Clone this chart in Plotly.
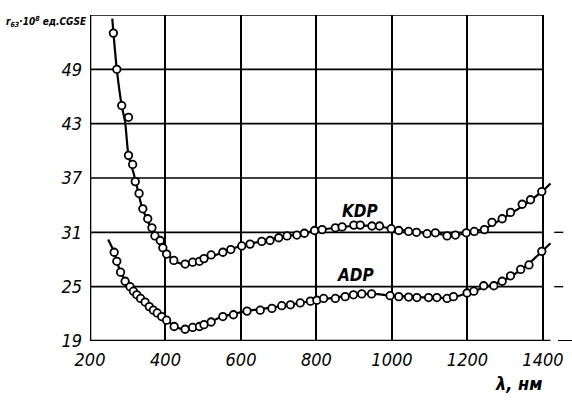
import plotly.graph_objects as go

# ---- data ----
kdp_lambda = [262, 271, 284, 302, 313, 320, 330, 340, 353, 364, 372, 386, 393, 403, 422,
              452, 472, 490, 502, 521, 552, 573, 602, 624, 655, 677, 700, 722, 748, 768,
              795, 815, 850, 868, 899, 916, 947, 967, 998, 1018, 1044, 1065, 1093, 1115,
              1146, 1168, 1197, 1218, 1245, 1265, 1292, 1314, 1345, 1367, 1397]
kdp_value = [53.0, 49.0, 45.0, 39.5, 38.5, 36.6, 35.3, 33.6, 32.5, 31.5, 30.6, 30.1, 29.3, 28.6, 27.9,
             27.5, 27.7, 27.8, 28.1, 28.5, 28.8, 29.1, 29.5, 29.7, 30.0, 30.1, 30.4, 30.6, 30.7, 30.9,
             31.2, 31.3, 31.5, 31.6, 31.8, 31.8, 31.7, 31.7, 31.4, 31.2, 31.1, 31.0, 30.85, 30.95,
             30.6, 30.7, 30.95, 31.1, 31.3, 32.1, 32.5, 33.2, 34.1, 34.6, 35.5]
kdp_extra_lambda = [302]
kdp_extra_value = [43.7]

kdp_curve_lambda = [259, 271, 284, 293, 302, 315, 324, 337, 359, 381, 403, 430, 455, 500, 600,
                    700, 800, 900, 960, 1000, 1100, 1160, 1200, 1250, 1300, 1350, 1400, 1420]
kdp_curve_value = [54.6, 49.0, 45.0, 43.2, 39.5, 37.6, 36.1, 33.9, 31.7, 29.9, 28.6, 27.7, 27.5, 28.0, 29.5,
                   30.4, 31.2, 31.7, 31.7, 31.4, 30.9, 30.7, 30.9, 31.5, 32.7, 34.0, 35.6, 36.4]

adp_lambda = [264, 271, 281, 293, 306, 315, 324, 334, 346, 357, 368, 378, 390, 403, 423,
              452, 472, 490, 502, 521, 552, 580, 616, 651, 682, 708, 731, 757, 784, 801,
              819, 850, 876, 898, 920, 946, 995, 1018, 1044, 1066, 1097, 1119, 1146, 1163,
              1199, 1217, 1243, 1270, 1292, 1314, 1341, 1363, 1397]
adp_value = [28.8, 27.8, 26.6, 25.6, 25.0, 24.5, 24.1, 23.7, 23.3, 22.8, 22.4, 22.1, 21.7, 21.3, 20.6,
             20.3, 20.5, 20.6, 20.8, 21.1, 21.7, 21.9, 22.3, 22.4, 22.6, 22.9, 23.0, 23.2, 23.4, 23.5,
             23.7, 23.7, 23.9, 24.1, 24.2, 24.2, 24.0, 23.9, 23.85, 23.8, 23.8, 23.8, 23.7, 23.9,
             24.3, 24.5, 25.1, 25.1, 25.6, 26.2, 26.9, 27.4, 28.9]

adp_curve_lambda = [248, 264, 281, 306, 334, 368, 403, 430, 455, 500, 552, 616, 700, 800,
                    900, 950, 1000, 1100, 1160, 1200, 1250, 1300, 1350, 1400, 1420]
adp_curve_value = [30.2, 28.8, 26.6, 25.0, 23.7, 22.4, 21.3, 20.5, 20.3, 20.8, 21.7, 22.3, 22.8, 23.5,
                   24.1, 24.2, 24.0, 23.8, 23.8, 24.3, 25.0, 25.8, 27.1, 29.0, 29.8]

x_ticks = [200, 400, 600, 800, 1000, 1200, 1400]
y_ticks = [19, 25, 31, 37, 43, 49]
grid_y = [25, 31, 37, 43, 49, 55]

FONT = "DejaVu Sans Condensed, Liberation Sans Narrow, DejaVu Sans, sans-serif"

fig = go.Figure()

line_style = dict(color="black", width=2.2, shape="spline", smoothing=0.8)
marker_style = dict(symbol="circle", size=7.5, color="white", line=dict(color="black", width=1.8))

fig.add_trace(go.Scatter(x=kdp_curve_lambda, y=kdp_curve_value, mode="lines", line=line_style,
                         hoverinfo="skip", showlegend=False))
fig.add_trace(go.Scatter(x=adp_curve_lambda, y=adp_curve_value, mode="lines", line=line_style,
                         hoverinfo="skip", showlegend=False))
fig.add_trace(go.Scatter(x=kdp_lambda + kdp_extra_lambda, y=kdp_value + kdp_extra_value,
                         mode="markers", marker=marker_style, name="KDP", showlegend=False))
fig.add_trace(go.Scatter(x=adp_lambda, y=adp_value, mode="markers", marker=marker_style,
                         name="ADP", showlegend=False))

shapes = []
for gy in grid_y:
    shapes.append(dict(type="line", xref="x", yref="y", x0=200, x1=1400, y0=gy, y1=gy,
                       line=dict(color="black", width=1.6), layer="below"))
# dashed extensions beyond 1400
for gy in [31, 25]:
    shapes.append(dict(type="line", xref="x", yref="y", x0=1430, x1=1477, y0=gy, y1=gy,
                       line=dict(color="black", width=1.4, dash="dash"), layer="below"))
# bottom axis line
shapes.append(dict(type="line", xref="x", yref="y", x0=200, x1=1420, y0=19, y1=19,
                   line=dict(color="black", width=2.4), layer="below"))
shapes.append(dict(type="line", xref="x", yref="y", x0=1440, x1=1477, y0=19, y1=19,
                   line=dict(color="black", width=2.0), layer="below"))
# left axis
shapes.append(dict(type="line", xref="x", yref="y", x0=200, x1=200, y0=19, y1=55,
                   line=dict(color="black", width=2.6), layer="below"))

fig.update_layout(
    width=572, height=401,
    margin=dict(l=90, r=0, t=15, b=60),
    paper_bgcolor="white", plot_bgcolor="white",
    font=dict(family=FONT, color="black"),
    shapes=shapes,
    xaxis=dict(range=[200, 1477], tickvals=x_ticks, ticktext=[str(v) for v in x_ticks],
               showgrid=True, gridcolor="black", gridwidth=1.6, zeroline=False,
               showline=False, ticks="", ticklabelstandoff=6,
               tickfont=dict(size=18, family=FONT, style="italic")),
    yaxis=dict(range=[19, 55], tickvals=y_ticks, ticktext=[str(v) for v in y_ticks],
               showgrid=False, zeroline=False, showline=False, ticks="",
               ticklabelstandoff=7,
               tickfont=dict(size=18, family=FONT, style="italic")),
    annotations=[
        dict(x=916, y=33.4, xref="x", yref="y", text="<b><i>KDP</i></b>", showarrow=False,
             font=dict(size=17, family=FONT)),
        dict(x=903, y=26.3, xref="x", yref="y", text="<b><i>ADP</i></b>", showarrow=False,
             font=dict(size=17, family=FONT)),
        dict(x=0.0, y=1.0, xref="paper", yref="paper", xanchor="right", yanchor="middle",
             xshift=-1, yshift=-7,
             text="<b><i>r<sub>63</sub>·10<sup>8</sup> ед.CGSE</i></b>", showarrow=False,
             font=dict(size=10, family=FONT)),
        dict(x=1.0, y=0.0, xref="paper", yref="paper", xanchor="right", yanchor="top",
             xshift=-28, yshift=-30,
             text="<b><i>λ, нм</i></b>", showarrow=False,
             font=dict(size=18, family=FONT)),
    ],
)

fig.write_html("out.html")
